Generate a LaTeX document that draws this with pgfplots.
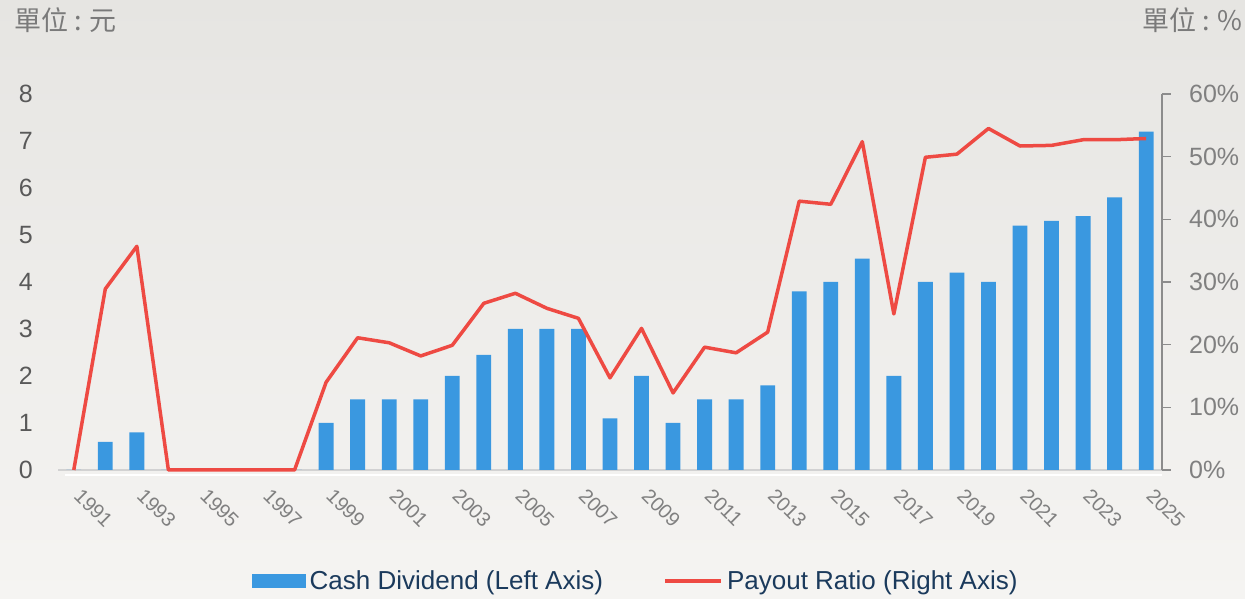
\documentclass[border=0pt]{standalone}
\usepackage{fontspec}
\setmainfont{Liberation Sans}
\newfontfamily\cjk{Noto Sans CJK TC}
\usepackage{pgfplots}
\usepackage{pgfplotstable}
\pgfplotsset{compat=1.18}
\pgfplotsset{/pgf/number format/assume math mode=true}

\definecolor{barblue}{HTML}{3A98E0}
\definecolor{linered}{HTML}{EE4A43}
\definecolor{navy}{HTML}{1B3A5C}
\definecolor{darkgraytick}{HTML}{595959}
\definecolor{midgray}{HTML}{808080}
\definecolor{unitgray}{HTML}{7A7A7A}
\definecolor{axisgray}{HTML}{8C8C8C}
\definecolor{baselinegray}{HTML}{D2D2D2}
\definecolor{bgtop}{HTML}{E6E5E2}
\definecolor{bgbot}{HTML}{F5F4F2}

\pgfplotstableread{
year div ratio
1991 0   0
1992 0.6 28.9
1993 0.8 35.7
1994 0   0
1995 0   0
1996 0   0
1997 0   0
1998 0   0
1999 1.0 14.0
2000 1.5 21.1
2001 1.5 20.3
2002 1.5 18.2
2003 2.0 19.9
2004 2.45 26.6
2005 3.0 28.2
2006 3.0 25.8
2007 3.0 24.2
2008 1.1 14.7
2009 2.0 22.6
2010 1.0 12.3
2011 1.5 19.6
2012 1.5 18.7
2013 1.8 22.0
2014 3.8 42.9
2015 4.0 42.4
2016 4.5 52.4
2017 2.0 24.9
2018 4.0 49.9
2019 4.2 50.4
2020 4.0 54.5
2021 5.2 51.7
2022 5.3 51.8
2023 5.4 52.7
2024 5.8 52.7
2025 7.2 52.9
}\data

\begin{document}
\begin{tikzpicture}
\fill[top color=bgtop, bottom color=bgbot] (0pt,0pt) rectangle (1245pt,599pt);
\node[anchor=north west, inner sep=0pt, text=unitgray, font=\cjk\fontsize{27}{30}\selectfont] at (14pt,592pt) {單位 : 元};
\node[anchor=north east, inner sep=0pt, text=unitgray, font=\cjk\fontsize{27}{30}\selectfont] at (1243pt,592pt) {單位 : \%};

\begin{axis}[
  name=ax,
  at={(58pt,129pt)}, anchor=south west, scale only axis,
  width=1104pt, height=376pt,
  xmin=1990.5, xmax=2025.5, ymin=0, ymax=8,
  axis x line*=bottom, axis y line*=left,
  x axis line style={draw=baselinegray, line width=2pt, -},
  y axis line style={draw=none},
  xtick={1991,1993,...,2025},
  ytick={0,1,...,8},
  xtick style={draw=none}, ytick style={draw=none},
  x tick label style={/pgf/number format/1000 sep={}, xshift=9pt, yshift=-17pt, rotate=-45, anchor=north west, inner sep=0pt, text=midgray, font=\fontsize{20}{22}\selectfont},
  y tick label style={anchor=east, inner sep=0pt, xshift=-25pt, text=darkgraytick, font=\fontsize{25}{28}\selectfont},
  clip=false,
]
\addplot[ybar, bar width=0.47, fill=barblue, draw=none] table[x=year, y=div] {\data};
\end{axis}
\draw[white, line width=2.5pt] ([xshift=7pt,yshift=-5pt]ax.south west) -- ([yshift=-5pt]ax.south east);

\begin{axis}[
  at={(58pt,129pt)}, anchor=south west, scale only axis,
  width=1104pt, height=376pt,
  xmin=1990.5, xmax=2025.5, ymin=0, ymax=60,
  axis x line=none, axis y line*=right,
  y axis line style={draw=axisgray, line width=1.3pt, -},
  ytick={0,10,...,60},
  yticklabel={\pgfmathprintnumber{\tick}\%},
  tick align=outside, major tick length=9pt,
  ytick style={draw=axisgray, line width=1.3pt},
  y tick label style={anchor=west, inner sep=0pt, xshift=18pt, text=midgray, font=\fontsize{25}{28}\selectfont},
  clip=false,
  legend columns=2,
  legend cell align=left,
  legend style={draw=none, fill=none, at={(0.5226,-0.295)}, anchor=center,
    font=\fontsize{26}{29}\selectfont, text=navy,
    nodes={inner sep=0pt},
    /tikz/every odd column/.append style={column sep=4pt},
    /tikz/every even column/.append style={column sep=60pt}},
]
\addlegendimage{legend image code/.code={\fill[barblue] (0pt,-6.5pt) rectangle (53pt,6.5pt);}}
\addlegendentry{Cash Dividend (Left Axis)}
\addplot[linered, line width=3.5pt, line join=round, mark=none,
  legend image code/.code={\draw[linered, line width=4pt] (0pt,0pt) -- (56pt,0pt);}]
  table[x=year, y=ratio] {\data};
\addlegendentry{Payout Ratio (Right Axis)}
\end{axis}
\pgfresetboundingbox
\path[use as bounding box] (0pt,0pt) rectangle (1245pt,599pt);
\end{tikzpicture}
\end{document}
